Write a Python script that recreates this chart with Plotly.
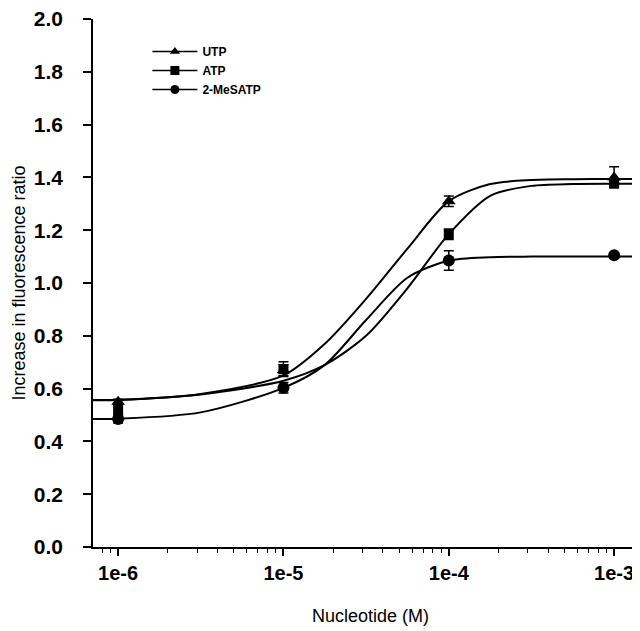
import plotly.graph_objects as go

# Measured points
conc = [1e-6, 1e-5, 1e-4, 1e-3]
utp = [0.55, 0.67, 1.31, 1.40]
utp_err = [0.01, 0.02, 0.02, 0.04]
atp = [0.52, 0.674, 1.185, 1.38]
atp_err = [0.02, 0.028, 0.02, 0.01]
mes = [0.485, 0.603, 1.085, 1.105]
mes_err = [0.015, 0.02, 0.037, 0.01]

# Fitted curves
curve_x = [7.05e-7, 1e-6, 3.16e-6, 1e-5, 1.78e-5, 3.16e-5, 5.62e-5, 1e-4,
           1.78e-4, 3.16e-4, 5.62e-4, 1e-3, 1.6e-3]
utp_fit = [0.556, 0.557, 0.580, 0.650, 0.770, 0.940, 1.130, 1.310,
           1.375, 1.390, 1.393, 1.394, 1.394]
atp_fit = [0.557, 0.558, 0.578, 0.630, 0.690, 0.800, 0.980, 1.185,
           1.330, 1.368, 1.375, 1.376, 1.376]
mes_fit = [0.485, 0.486, 0.510, 0.603, 0.690, 0.860, 1.020, 1.085,
           1.098, 1.100, 1.100, 1.100, 1.100]

x_ticks = [1e-6, 1e-5, 1e-4, 1e-3]
x_tick_text = ["1e-6", "1e-5", "1e-4", "1e-3"]
minor_ticks = [m * 10.0 ** e for e in (-7, -6, -5, -4, -3) for m in range(2, 10)]

fig = go.Figure()

for fit in (utp_fit, atp_fit, mes_fit):
    fig.add_trace(go.Scatter(x=curve_x, y=fit, mode="lines",
                             line=dict(color="black", width=2, shape="spline",
                                       smoothing=0.8),
                             showlegend=False, hoverinfo="skip"))

series = [("UTP", utp, utp_err, "triangle-up", 12),
          ("ATP", atp, atp_err, "square", 10),
          ("2-MeSATP", mes, mes_err, "circle", 12)]
for name, ys, errs, sym, sz in series:
    fig.add_trace(go.Scatter(x=conc, y=ys, mode="markers",
                             marker=dict(symbol=sym, size=sz, color="black"),
                             error_y=dict(type="data", array=errs, color="black",
                                          thickness=1.5, width=5),
                             showlegend=False))
for name, ys, errs, sym, sz in series:
    fig.add_trace(go.Scatter(x=[None], y=[None], mode="lines+markers", name=name,
                             marker=dict(symbol=sym, size=9, color="black"),
                             line=dict(color="black", width=1.5)))

fig.update_layout(
    width=640, height=631,
    margin=dict(l=85, r=0, t=11, b=92),
    paper_bgcolor="white", plot_bgcolor="white",
    font=dict(family="Liberation Sans, Arial", color="black"),
    showlegend=True,
    legend=dict(x=0.098, y=0.966, xanchor="left", yanchor="top",
                font=dict(size=12, family="Liberation Sans, Arial", weight="bold"),
                bgcolor="rgba(0,0,0,0)", tracegroupgap=0, itemwidth=45),
    xaxis=dict(type="log", range=[-6.152, -2.795], automargin=False,
               tickmode="array", tickvals=x_ticks, ticktext=x_tick_text,
               ticks="outside", ticklen=7, tickwidth=1.5, tickcolor="black",
               tickfont=dict(size=20, weight="bold"), ticklabeloverflow="allow",
               showline=True, linecolor="black", linewidth=1.5,
               showgrid=False, zeroline=False,
               minor=dict(tickmode="array", tickvals=minor_ticks, ticks="outside",
                          ticklen=4, tickwidth=1.2, tickcolor="black", showgrid=False),
               title=dict(text="Nucleotide (M)", font=dict(size=18), standoff=27)),
    yaxis=dict(range=[0, 2.0001], dtick=0.2, tick0=0, tickformat=".1f",
               automargin=False,
               ticks="outside", ticklen=8, tickwidth=1.5, tickcolor="black",
               tickfont=dict(size=21, weight="bold"), ticklabelstandoff=16,
               ticklabeloverflow="allow",
               showline=True, linecolor="black", linewidth=1.5,
               showgrid=False, zeroline=False,
               title=dict(text="Increase in fluorescence ratio", font=dict(size=18),
                          standoff=4)),
)

fig.write_html("out.html")
